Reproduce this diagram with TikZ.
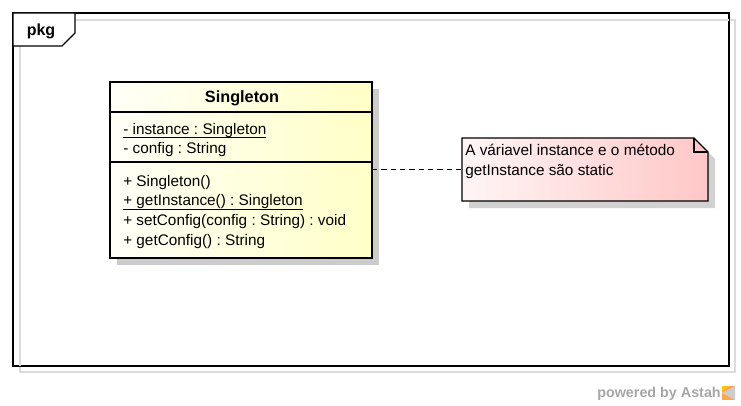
\documentclass[tikz,border=0pt]{standalone}
\usepackage{fontspec}
\setmainfont{Liberation Sans}
\frenchspacing
\newcommand\myul[1]{\setbox0\hbox{#1}\rlap{\rule[-3pt]{\wd0}{0.7pt}}\box0}
\begin{document}
\begin{tikzpicture}[x=0.75pt,y=-0.75pt,
  txt/.style={inner sep=0pt,anchor=base west,font=\fontsize{11.5}{13}\selectfont},
  shadowline/.style={draw=black!14,line width=0.8pt}]
\useasboundingbox (0,0) rectangle (741,406);
% frame shadow
\draw[shadowline] (20,20) rectangle (735,372);
% frame
\draw[line width=0.9pt,fill=white] (13,13) rectangle (729,366);
\draw[shadowline] (20,20) -- (729,20);
\draw[shadowline] (20,20) -- (20,366);
\draw[line width=0.9pt,fill=white] (13,13) -- (75,13) -- (75,33) -- (62,46) -- (13,46) -- cycle;
\node[inner sep=0pt,anchor=base,font=\bfseries\fontsize{12}{14}\selectfont] (pkg) at (41,36) {pkg};
% class shadow
\fill[black!20] (117,89) rectangle (379,265);
% class box
\shade[left color=yellow!3,right color=yellow!22] (110,82) rectangle (372,258);
\draw[line width=2.2pt] (110,82) rectangle (372,258);
\node[draw=none,inner sep=0pt,minimum width=262*0.75pt,minimum height=176*0.75pt,anchor=north west] (cls) at (110,82) {};
\draw[line width=0.9pt] (110,112) -- (372,112);
\draw[line width=0.9pt] (110,162) -- (372,162);
\node[inner sep=0pt,anchor=base,font=\bfseries\fontsize{12.2}{14}\selectfont] (title) at (242,103) {Singleton};
\node[txt] (a1) at (123,134) {\myul{- instance : Singleton}};
\node[txt] (a2) at (123,153.5) {- config : String};
\node[txt] (o1) at (123,186) {+ Singleton()};
\node[txt] (o2) at (123,205.5) {\myul{+ getInstance() : Singleton}};
\node[txt] (o3) at (123,225) {+ setConfig(config : String) : void};
\node[txt] (o4) at (123,245) {+ getConfig() : String};
% note shadow
\fill[black!18] (469,145) -- (701,145) -- (715,159) -- (715,208) -- (469,208) -- cycle;
% note
\shade[left color=red!4,right color=red!22] (462,138) -- (694,138) -- (708,152) -- (708,201) -- (462,201) -- cycle;
\draw[line width=0.9pt] (462,138) -- (694,138) -- (708,152) -- (708,201) -- (462,201) -- cycle;
\draw[line width=0.9pt] (694,138) -- (694,152) -- (708,152);
\node[draw=none,inner sep=0pt,minimum width=246*0.75pt,minimum height=63*0.75pt,anchor=north west] (note) at (462,138) {};
\node[txt] (n1) at (465,155) {A váriavel instance e o método};
\node[txt] (n2) at (465,175) {getInstance são static};
% connector
\coordinate (c1) at (372,169);
\coordinate (c2) at (462,169);
\draw[line width=0.6pt,dash pattern=on 4pt off 3pt] (c1) -- (c2);
% powered by
\node[inner sep=0pt,anchor=base east,text=black!35,font=\bfseries\fontsize{10.75}{12}\selectfont] (pw) at (721,397) {powered by Astah};
\fill[orange!70] (722,386) rectangle (735,400);
\fill[black!20] (722,393) -- (735,386) -- (735,400) -- cycle;
\fill[yellow!60!orange] (722,386) -- (728,386) -- (722,392) -- cycle;
\end{tikzpicture}
\end{document}
